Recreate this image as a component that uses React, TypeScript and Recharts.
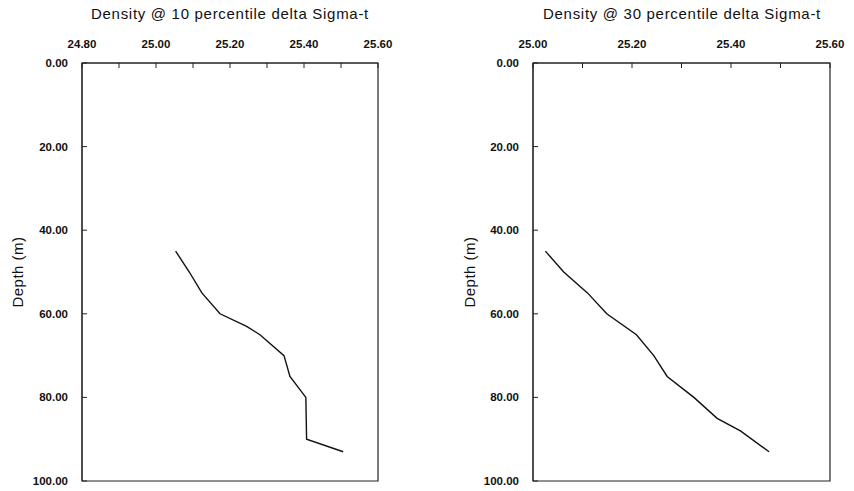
import { ScatterChart, Scatter, XAxis, YAxis, ReferenceArea } from 'recharts';

// Sigma-t profiles against depth
const depthP10 = [45, 50, 55, 60, 63, 65, 70, 75, 80, 85, 90, 93];
const densityP10 = [25.053, 25.09, 25.124, 25.173, 25.245, 25.281, 25.346, 25.362, 25.405, 25.406, 25.407, 25.506];

const depthP30 = [45, 50, 55, 60, 65, 70, 75, 80, 85, 88, 93];
const densityP30 = [25.025, 25.062, 25.11, 25.149, 25.209, 25.244, 25.271, 25.325, 25.372, 25.419, 25.477];

const depthTicks = [0, 20, 40, 60, 80, 100];
const ticksP10 = [24.8, 24.9, 25.0, 25.1, 25.2, 25.3, 25.4, 25.5, 25.6];
const ticksP30 = [25.0, 25.1, 25.2, 25.3, 25.4, 25.5, 25.6];

const FONT = '"Liberation Sans", Arial, sans-serif';

const toRows = (depths: number[], dens: number[]) =>
  depths.map((d, i) => ({ depth: d, density: dens[i] }));

// only every other density tick gets a label
const densityLabel = (v: number) =>
  Math.round(v * 10) % 2 === 0 ? v.toFixed(2) : '';

interface PanelProps {
  title: string;
  rows: { depth: number; density: number }[];
  ticks: number[];
  marginLeft: number;
  marginRight: number;
  left: number;
  titleX: number;
  labelX: number;
}

function Panel({ title, rows, ticks, marginLeft, marginRight, left, titleX, labelX }: PanelProps) {
  const lo = ticks[0];
  const hi = ticks[ticks.length - 1];
  const tickStyle = { fontSize: 11.5, fontWeight: 700, fill: '#111', fontFamily: FONT };
  return (
    <div style={{ position: 'absolute', left, top: 0, width: 427, height: 491 }}>
      <div
        style={{
          position: 'absolute',
          left: titleX - 200,
          width: 400,
          top: 5,
          textAlign: 'center',
          fontFamily: FONT,
          fontSize: 15,
          letterSpacing: 0.7,
          color: '#111',
        }}
      >
        {title}
      </div>
      <div
        style={{
          position: 'absolute',
          left: labelX - 50,
          top: 272 - 9,
          width: 100,
          height: 18,
          lineHeight: '18px',
          textAlign: 'center',
          transform: 'rotate(-90deg)',
          fontFamily: FONT,
          fontSize: 15,
          letterSpacing: 0.5,
          color: '#111',
        }}
      >
        Depth (m)
      </div>
      <ScatterChart
        width={427}
        height={491}
        margin={{ top: 33, right: marginRight, bottom: 10, left: marginLeft }}
      >
        <XAxis
          type="number"
          dataKey="density"
          orientation="top"
          domain={[lo, hi]}
          ticks={ticks}
          tickFormatter={densityLabel}
          height={30}
          tickSize={-5}
          tickMargin={20}
          tick={tickStyle}
          stroke="#222"
          interval={0}
        />
        <YAxis
          type="number"
          dataKey="depth"
          reversed
          domain={[0, 100]}
          ticks={depthTicks}
          tickFormatter={(v: number) => v.toFixed(2)}
          width={60}
          tickSize={-5}
          tickMargin={19}
          tick={tickStyle}
          stroke="#222"
          interval={0}
        />
        <ReferenceArea
          x1={lo}
          x2={hi}
          y1={0}
          y2={100}
          fill="none"
          stroke="#222"
          strokeWidth={1.2}
        />
        <Scatter
          data={rows}
          line={{ stroke: '#111', strokeWidth: 1.4 }}
          shape={() => <g />}
          isAnimationActive={false}
        />
      </ScatterChart>
    </div>
  );
}

export default function App() {
  return (
    <div
      style={{
        position: 'absolute',
        left: 0,
        top: 0,
        width: 854,
        height: 491,
        background: '#fff',
      }}
    >
      <Panel
        title="Density @ 10 percentile delta Sigma-t"
        rows={toRows(depthP10, densityP10)}
        ticks={ticksP10}
        marginLeft={22}
        marginRight={49}
        left={0}
        titleX={230}
        labelX={18}
      />
      <Panel
        title="Density @ 30 percentile delta Sigma-t"
        rows={toRows(depthP30, densityP30)}
        ticks={ticksP30}
        marginLeft={46}
        marginRight={24}
        left={427}
        titleX={255}
        labelX={43}
      />
    </div>
  );
}
